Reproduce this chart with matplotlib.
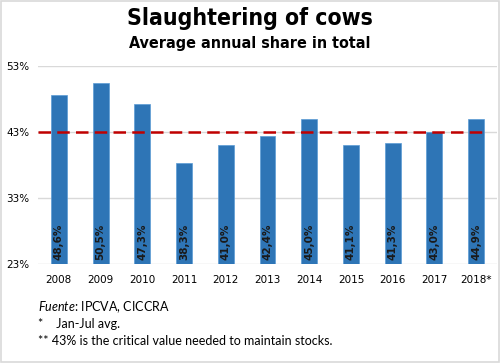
import matplotlib.pyplot as plt
from matplotlib.patches import Rectangle

years = ['2008', '2009', '2010', '2011', '2012', '2013', '2014', '2015', '2016', '2017', '2018*']
share = [48.6, 50.5, 47.3, 38.3, 41.0, 42.4, 45.0, 41.1, 41.3, 43.0, 44.9]
labels = ['48,6%', '50,5%', '47,3%', '38,3%', '41,0%', '42,4%', '45,0%', '41,1%', '41,3%', '43,0%', '44,9%']
critical = 43
yticks = [23, 33, 43, 53]

plt.rcParams['mathtext.fontset'] = 'custom'
plt.rcParams['mathtext.it'] = 'Lato:italic'
plt.rcParams['mathtext.rm'] = 'Lato'

fig = plt.figure(figsize=(5, 3.63), dpi=100)
fig.patches.append(Rectangle((0.002, 0.003), 0.995, 0.994, transform=fig.transFigure,
                             fill=False, edgecolor='#d9d9d9', linewidth=1.2))

ax = fig.add_axes([0.076, 0.273, 0.918, 0.545])
x = range(len(years))
ax.bar(x, share, width=0.38, color='#2e75b6', edgecolor='#5b9bd5', linewidth=0.5, zorder=2)
ax.axhline(critical, xmin=0, xmax=0.98, color='#c00000', linestyle=(0, (5, 2.5)), linewidth=1.8, zorder=3)

for i, lab in enumerate(labels):
    ax.text(i, 23.6, lab, rotation=90, ha='center', va='bottom', fontsize=7.5,
            fontweight='bold', color='#1a1a1a', zorder=4)

ax.set_ylim(23, 53)
ax.set_xlim(-0.5, len(years) - 0.5)
ax.set_yticks(yticks)
ax.set_yticklabels([f'{t}%' for t in yticks], fontsize=7.5)
ax.set_xticks(list(x))
ax.set_xticklabels(years, fontsize=7.5)
ax.tick_params(length=0, pad=8)
ax.tick_params(axis='y', pad=6)
ax.grid(axis='y', color='#d9d9d9', linewidth=1, zorder=0)
for s in ax.spines.values():
    s.set_visible(False)

# titles
fig.text(0.5, 0.95, 'Slaughtering of cows', ha='center', va='center', fontsize=16.5,
         fontweight='bold', fontstretch='condensed', family='DejaVu Sans')
fig.text(0.5, 0.88, 'Average annual share in total', ha='center', va='center', fontsize=11.5,
         fontweight='bold', fontstretch='condensed', family='DejaVu Sans')

# notes
fig.text(0.076, 0.143, r'$\it{Fuente}$: IPCVA, CICCRA', fontsize=9, family='Lato')
fig.text(0.076, 0.097, '*    Jan-Jul avg.', fontsize=9, family='Lato')
fig.text(0.076, 0.050, '** 43% is the critical value needed to maintain stocks.', fontsize=9, family='Lato')

fig.savefig('out.png', dpi=100)
